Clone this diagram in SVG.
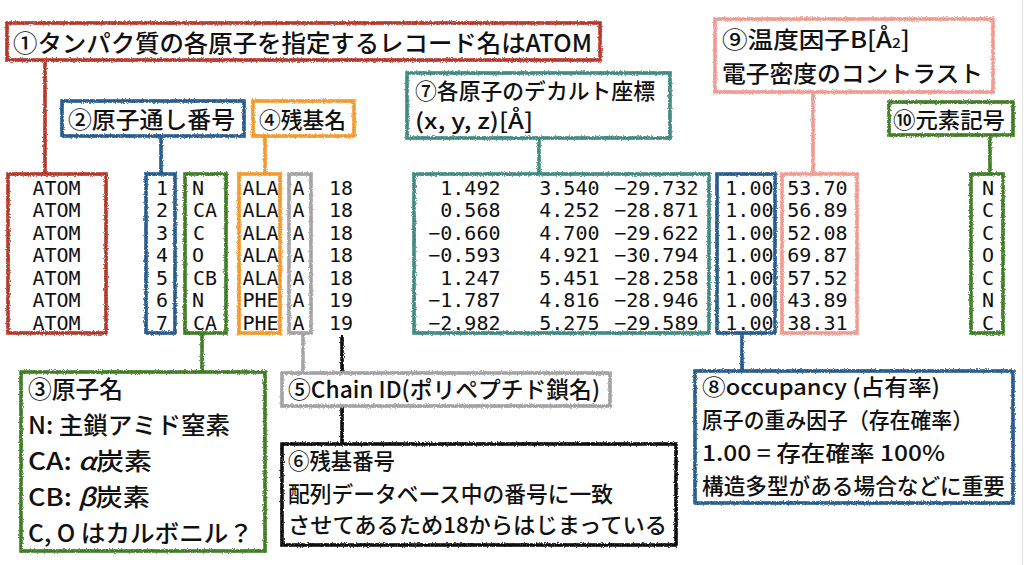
<svg xmlns="http://www.w3.org/2000/svg" width="1024" height="565" viewBox="0 0 1024 565">
<defs>
<filter id="rough" filterUnits="userSpaceOnUse" x="0" y="0" width="1024" height="565">
<feTurbulence type="fractalNoise" baseFrequency="0.85" numOctaves="2" seed="4" result="n"/>
<feDisplacementMap in="SourceGraphic" in2="n" scale="3.2" xChannelSelector="R" yChannelSelector="G"/>
</filter>
<style>
.box{fill:#fff;stroke-width:3.6;filter:url(#rough)}
.ln{fill:none;stroke-width:3.6;filter:url(#rough)}
.red{stroke:#b5392b}.blue{stroke:#285b8e}.org{stroke:#f29a2e}.gray{stroke:#a3a3a3}
.grn{stroke:#3f7e27}.teal{stroke:#3f8a82}.pink{stroke:#f09b92}.blk{stroke:#111}
.lb{font-family:"Noto Sans CJK JP","Noto Sans",sans-serif;fill:#111;font-weight:500}
.mono{font-family:"DejaVu Sans Mono","Liberation Mono",monospace;font-size:20px;fill:#111}
.e{text-anchor:end}.m{text-anchor:middle}
</style>
</defs>
<rect width="1024" height="565" fill="#fff"/>
<line x1="1022.5" y1="0" x2="1022.5" y2="565" stroke="#e2e2e2" stroke-width="1"/>

<g id="connectors">
<line class="ln red" x1="45" y1="62" x2="45" y2="174"/>
<line class="ln blue" x1="161" y1="137" x2="161" y2="174"/>
<line class="ln org" x1="265" y1="137" x2="265" y2="174"/>
<line class="ln teal" x1="539" y1="139" x2="539" y2="174"/>
<line class="ln pink" x1="813" y1="93" x2="813" y2="174"/>
<line class="ln grn" x1="990" y1="136" x2="990" y2="174"/>
<line class="ln grn" x1="202" y1="334" x2="202" y2="372"/>
<line class="ln gray" x1="303" y1="334" x2="303" y2="373"/>
<line class="ln blk" x1="342" y1="336" x2="342" y2="444"/>
<line class="ln blue" x1="742" y1="334" x2="742" y2="371"/>
</g>

<g id="label1">
<rect class="box red" x="7" y="23" width="593" height="37"/>
<text class="lb" x="13" y="52" font-size="23.5" textLength="579" lengthAdjust="spacingAndGlyphs">①タンパク質の各原子を指定するレコード名はATOM</text>
</g>
<g id="label2">
<rect class="box blue" x="62" y="101" width="182" height="35"/>
<text class="lb" x="68" y="128" font-size="23" textLength="167" lengthAdjust="spacingAndGlyphs">②原子通し番号</text>
</g>
<g id="label4">
<rect class="box org" x="253" y="101" width="101" height="35"/>
<text class="lb" x="259" y="128" font-size="22" textLength="87" lengthAdjust="spacingAndGlyphs">④残基名</text>
</g>
<g id="label7">
<rect class="box teal" x="407" y="73" width="263" height="65"/>
<text class="lb" x="415" y="99" font-size="22" textLength="240" lengthAdjust="spacingAndGlyphs">⑦各原子のデカルト座標</text>
<text class="lb" x="415" y="129" font-size="22" textLength="118" lengthAdjust="spacingAndGlyphs">(x, y, z)[Å]</text>
</g>
<g id="label9">
<rect class="box pink" x="715" y="19" width="278" height="73"/>
<text class="lb" x="722" y="48" font-size="23" textLength="188" lengthAdjust="spacingAndGlyphs">⑨温度因子B[Å<tspan font-size="14">2</tspan>]</text>
<text class="lb" x="722" y="82" font-size="23" textLength="261" lengthAdjust="spacingAndGlyphs">電子密度のコントラスト</text>
</g>
<g id="label10">
<rect class="box grn" x="889" y="102" width="124" height="33"/>
<text class="lb" x="893" y="128" font-size="22" textLength="112" lengthAdjust="spacingAndGlyphs">⑩元素記号</text>
</g>

<g id="col-record">
<rect class="box red" x="8" y="174" width="98" height="159"/>
<text class="mono" x="32.5" y="194.5">ATOM</text>
<text class="mono" x="32.5" y="217.1">ATOM</text>
<text class="mono" x="32.5" y="239.7">ATOM</text>
<text class="mono" x="32.5" y="262.2">ATOM</text>
<text class="mono" x="32.5" y="284.8">ATOM</text>
<text class="mono" x="32.5" y="307.4">ATOM</text>
<text class="mono" x="32.5" y="330">ATOM</text>
</g>
<g id="col-serial">
<rect class="box blue" x="146" y="174" width="29" height="159"/>
<text class="mono m" x="162" y="194.5">1</text>
<text class="mono m" x="162" y="217.1">2</text>
<text class="mono m" x="162" y="239.7">3</text>
<text class="mono m" x="162" y="262.2">4</text>
<text class="mono m" x="162" y="284.8">5</text>
<text class="mono m" x="162" y="307.4">6</text>
<text class="mono m" x="162" y="330">7</text>
</g>
<g id="col-atomname">
<rect class="box grn" x="185" y="174" width="41" height="159"/>
<text class="mono" x="192" y="194.5">N</text>
<text class="mono" x="193" y="217.1">CA</text>
<text class="mono" x="193" y="239.7">C</text>
<text class="mono" x="192" y="262.2">O</text>
<text class="mono" x="193" y="284.8">CB</text>
<text class="mono" x="192" y="307.4">N</text>
<text class="mono" x="193" y="330">CA</text>
</g>
<g id="col-resname">
<rect class="box org" x="239" y="174" width="41" height="159"/>
<text class="mono" x="242.5" y="194.5">ALA</text>
<text class="mono" x="242.5" y="217.1">ALA</text>
<text class="mono" x="242.5" y="239.7">ALA</text>
<text class="mono" x="242.5" y="262.2">ALA</text>
<text class="mono" x="242.5" y="284.8">ALA</text>
<text class="mono" x="242.5" y="307.4">PHE</text>
<text class="mono" x="242.5" y="330">PHE</text>
</g>
<g id="col-chain">
<rect class="box gray" x="289" y="174" width="22" height="159"/>
<text class="mono m" x="298.5" y="194.5">A</text>
<text class="mono m" x="298.5" y="217.1">A</text>
<text class="mono m" x="298.5" y="239.7">A</text>
<text class="mono m" x="298.5" y="262.2">A</text>
<text class="mono m" x="298.5" y="284.8">A</text>
<text class="mono m" x="298.5" y="307.4">A</text>
<text class="mono m" x="298.5" y="330">A</text>
</g>
<g id="col-resseq">
<text class="mono" x="329" y="194.5">18</text>
<text class="mono" x="329" y="217.1">18</text>
<text class="mono" x="329" y="239.7">18</text>
<text class="mono" x="329" y="262.2">18</text>
<text class="mono" x="329" y="284.8">18</text>
<text class="mono" x="329" y="307.4">19</text>
<text class="mono" x="329" y="330">19</text>
</g>
<g id="col-xyz">
<rect class="box teal" x="414" y="174" width="295" height="159"/>
<text class="mono e" x="500.5" y="194.5">1.492</text>
<text class="mono e" x="500.5" y="217.1">0.568</text>
<text class="mono e" x="500.5" y="239.7">−0.660</text>
<text class="mono e" x="500.5" y="262.2">−0.593</text>
<text class="mono e" x="500.5" y="284.8">1.247</text>
<text class="mono e" x="500.5" y="307.4">−1.787</text>
<text class="mono e" x="500.5" y="330">−2.982</text>
<text class="mono e" x="599.5" y="194.5">3.540</text>
<text class="mono e" x="599.5" y="217.1">4.252</text>
<text class="mono e" x="599.5" y="239.7">4.700</text>
<text class="mono e" x="599.5" y="262.2">4.921</text>
<text class="mono e" x="599.5" y="284.8">5.451</text>
<text class="mono e" x="599.5" y="307.4">4.816</text>
<text class="mono e" x="599.5" y="330">5.275</text>
<text class="mono e" x="698.5" y="194.5">−29.732</text>
<text class="mono e" x="698.5" y="217.1">−28.871</text>
<text class="mono e" x="698.5" y="239.7">−29.622</text>
<text class="mono e" x="698.5" y="262.2">−30.794</text>
<text class="mono e" x="698.5" y="284.8">−28.258</text>
<text class="mono e" x="698.5" y="307.4">−28.946</text>
<text class="mono e" x="698.5" y="330">−29.589</text>
</g>
<g id="col-occupancy">
<rect class="box blue" x="717" y="174" width="58" height="159"/>
<text class="mono e" x="773.5" y="194.5">1.00</text>
<text class="mono e" x="773.5" y="217.1">1.00</text>
<text class="mono e" x="773.5" y="239.7">1.00</text>
<text class="mono e" x="773.5" y="262.2">1.00</text>
<text class="mono e" x="773.5" y="284.8">1.00</text>
<text class="mono e" x="773.5" y="307.4">1.00</text>
<text class="mono e" x="773.5" y="330">1.00</text>
</g>
<g id="col-bfactor">
<rect class="box pink" x="782" y="174" width="75" height="159"/>
<text class="mono e" x="847.5" y="194.5">53.70</text>
<text class="mono e" x="847.5" y="217.1">56.89</text>
<text class="mono e" x="847.5" y="239.7">52.08</text>
<text class="mono e" x="847.5" y="262.2">69.87</text>
<text class="mono e" x="847.5" y="284.8">57.52</text>
<text class="mono e" x="847.5" y="307.4">43.89</text>
<text class="mono e" x="847.5" y="330">38.31</text>
</g>
<g id="col-element">
<rect class="box grn" x="971" y="174" width="32" height="159"/>
<text class="mono m" x="988" y="194.5">N</text>
<text class="mono m" x="988" y="217.1">C</text>
<text class="mono m" x="988" y="239.7">C</text>
<text class="mono m" x="988" y="262.2">O</text>
<text class="mono m" x="988" y="284.8">C</text>
<text class="mono m" x="988" y="307.4">N</text>
<text class="mono m" x="988" y="330">C</text>
</g>

<g id="label3">
<rect class="box grn" x="21" y="372" width="244" height="179"/>
<text class="lb" x="28" y="398" font-size="24" textLength="95" lengthAdjust="spacingAndGlyphs">③原子名</text>
<text class="lb" x="28" y="434" font-size="24" textLength="202" lengthAdjust="spacingAndGlyphs">N: 主鎖アミド窒素</text>
<text class="lb" x="28" y="470" font-size="24" textLength="124" lengthAdjust="spacingAndGlyphs">CA: <tspan font-style="italic">α</tspan>炭素</text>
<text class="lb" x="28" y="506" font-size="24" textLength="122" lengthAdjust="spacingAndGlyphs">CB: <tspan font-style="italic">β</tspan>炭素</text>
<text class="lb" x="28" y="542" font-size="24" textLength="225" lengthAdjust="spacingAndGlyphs">C, O はカルボニル？</text>
</g>
<g id="label5">
<rect class="box gray" x="282" y="373" width="328" height="33"/>
<text class="lb" x="288" y="398" font-size="23" textLength="312" lengthAdjust="spacingAndGlyphs">⑤Chain ID(ポリペプチド鎖名)</text>
</g>
<g id="label6">
<rect class="box blk" x="282" y="444" width="394" height="101"/>
<text class="lb" x="288" y="469" font-size="22" textLength="107" lengthAdjust="spacingAndGlyphs">⑥残基番号</text>
<text class="lb" x="288" y="502" font-size="22" textLength="325" lengthAdjust="spacingAndGlyphs">配列データベース中の番号に一致</text>
<text class="lb" x="288" y="533" font-size="22" textLength="379" lengthAdjust="spacingAndGlyphs">させてあるため18からはじまっている</text>
</g>
<g id="label8">
<rect class="box blue" x="695" y="371" width="318" height="132"/>
<text class="lb" x="702" y="395" font-size="22" textLength="238" lengthAdjust="spacingAndGlyphs">⑧occupancy (占有率)</text>
<text class="lb" x="702" y="428" font-size="22" textLength="271" lengthAdjust="spacingAndGlyphs">原子の重み因子（存在確率）</text>
<text class="lb" x="702" y="461" font-size="22" textLength="243" lengthAdjust="spacingAndGlyphs">1.00 = 存在確率 100%</text>
<text class="lb" x="702" y="494" font-size="22" textLength="303" lengthAdjust="spacingAndGlyphs">構造多型がある場合などに重要</text>
</g>
</svg>
